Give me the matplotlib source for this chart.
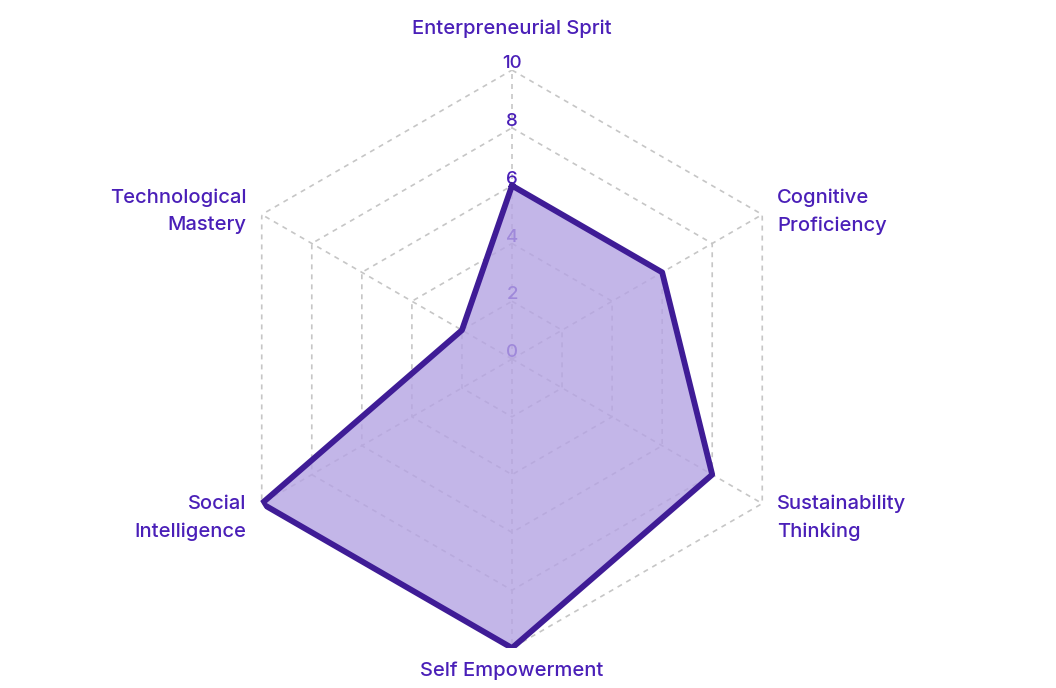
# radar chart - skills profile
import matplotlib.pyplot as plt
import numpy as np

plt.rcParams['font.family'] = ['Inter', 'DejaVu Sans']

categories = ['Enterpreneurial Sprit', 'Cognitive\nProficiency', 'Sustainability\nThinking',
              'Self Empowerment', 'Social\nIntelligence', 'Technological\nMastery']
values = [6, 6, 8, 10, 10, 2]
ticks = [0, 2, 4, 6, 8, 10]

text_color = '#4a1fb8'
line_color = '#3f1c96'
grid_color = '#c6c6c6'

n = len(categories)
angles = np.arange(n) * 2 * np.pi / n
closed = np.append(angles, angles[0])

fig = plt.figure(figsize=(10.56, 6.88), dpi=100)
ax = fig.add_axes([0.2112, 0.0581, 0.5473, 0.8401], projection='polar')
ax.set_theta_zero_location('N')
ax.set_theta_direction(-1)
ax.set_ylim(0, 10)
ax.grid(False)
ax.spines['polar'].set_visible(False)
ax.set_xticks([])
ax.set_yticks([])

# hexagon grid
for t in ticks[1:]:
    ax.plot(closed, [t] * (n + 1), color=grid_color, lw=1.2, ls=(0, (3, 3)), zorder=1)
for a in angles:
    ax.plot([a, a], [0, 10], color=grid_color, lw=1.2, ls=(0, (3, 3)), zorder=1)

# radial tick labels (under the fill)
for t in ticks:
    ax.annotate(str(t), xy=(0, t), xytext=(0, 4.5), textcoords='offset points',
                ha='center', va='center', fontsize=13.5, fontweight='medium',
                color=text_color, zorder=2)

# data
vals = values + values[:1]
ax.fill(closed, vals, color='#b5a4e3', alpha=0.8, zorder=3, lw=0)
ax.plot(closed, vals, color=line_color, lw=4.2, zorder=4)

# category labels
pos = [(11.4, 'center', 0.5), (10.6, 'left', -4), (10.6, 'left', -4),
       (10.8, 'center', 0.5), (10.6, 'right', -4), (10.6, 'right', -4)]
for a, lab, (r, ha, dy) in zip(angles, categories, pos):
    ax.annotate(lab, xy=(a, r), xytext=(0, dy), textcoords='offset points',
                ha=ha, va='center', fontsize=14.5, fontweight='medium',
                color=text_color, linespacing=1.65, annotation_clip=False)

fig.savefig('out.png', dpi=100)
